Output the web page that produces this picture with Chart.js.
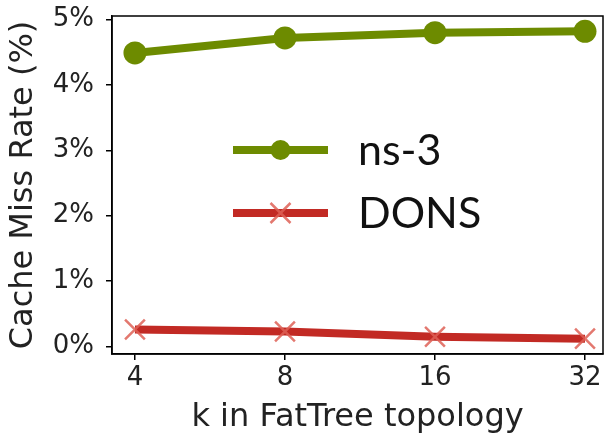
<!DOCTYPE html>
<html>
<head>
<meta charset="utf-8">
<script src="https://cdn.jsdelivr.net/npm/chart.js@4.4.0/dist/chart.umd.min.js"></script>
<style>
    html, body { margin: 0; padding: 0; background: #fff; }
    #wrap { width: 607px; height: 433px; }
</style>
</head>
<body>
<div id="wrap"><canvas id="missChart" width="607" height="433"></canvas></div>
<script>
// data
var kLabels = ['4', '8', '16', '32'];
var ns3Rate = [4.49, 4.72, 4.80, 4.82];
var donsRate = [0.26, 0.23, 0.15, 0.12];
var yTicks = [0, 1, 2, 3, 4, 5];

var green = '#6d8b00';
var red = '#c22a24';
var crossColor = 'rgba(222, 96, 86, 0.85)';
var font = 'DejaVu Sans';

function toPoints(values) {
    return values.map(function(v, i) { return { x: i, y: v }; });
}

// box around the plot + the legend drawn matplotlib style
var framePlugin = {
    id: 'frame',
    afterDraw: function(chart) {
        var ctx = chart.ctx;
        var a = chart.chartArea;
        ctx.save();
        ctx.strokeStyle = '#000';
        ctx.lineWidth = 1.5;
        ctx.strokeRect(a.left, a.top, a.right - a.left, a.bottom - a.top);

        var items = [
            { label: 'ns-3', color: green, marker: 'circle', y: a.top + 134 },
            { label: 'DONS', color: red, marker: 'cross', y: a.top + 197 }
        ];
        var x0 = a.left + 121, x1 = a.left + 216, xm = (x0 + x1) / 2;
        items.forEach(function(it) {
            ctx.strokeStyle = it.color;
            ctx.lineWidth = 8;
            ctx.beginPath();
            ctx.moveTo(x0, it.y);
            ctx.lineTo(x1, it.y);
            ctx.stroke();
            if (it.marker === 'circle') {
                ctx.fillStyle = it.color;
                ctx.beginPath();
                ctx.arc(xm, it.y, 10, 0, Math.PI * 2);
                ctx.fill();
            } else {
                ctx.strokeStyle = crossColor;
                ctx.lineWidth = 2.5;
                ctx.beginPath();
                ctx.moveTo(xm - 10, it.y - 10); ctx.lineTo(xm + 10, it.y + 10);
                ctx.moveTo(xm + 10, it.y - 10); ctx.lineTo(xm - 10, it.y + 10);
                ctx.stroke();
            }
            ctx.fillStyle = '#111';
            ctx.font = '43px Lato';
            ctx.textBaseline = 'middle';
            ctx.textAlign = 'left';
            ctx.fillText(it.label, a.left + 246, it.y + 1);
        });
        ctx.restore();
    }
};

var ctx = document.getElementById('missChart').getContext('2d');
new Chart(ctx, {
    type: 'line',
    data: {
        datasets: [{
            label: 'ns-3',
            data: toPoints(ns3Rate),
            borderColor: green,
            backgroundColor: green,
            borderWidth: 8,
            pointStyle: 'circle',
            pointRadius: 11.5,
            pointBorderWidth: 0,
            pointBackgroundColor: green
        }, {
            label: 'DONS',
            data: toPoints(donsRate),
            borderColor: red,
            backgroundColor: red,
            borderWidth: 8,
            pointStyle: 'crossRot',
            pointRadius: 14,
            pointBorderWidth: 2.5,
            pointBorderColor: crossColor
        }]
    },
    options: {
        responsive: false,
        animation: false,
        layout: {
            autoPadding: false,
            padding: { top: 16, right: 4, left: 0, bottom: 0 }
        },
        plugins: {
            legend: { display: false },
            tooltip: { enabled: false }
        },
        scales: {
            x: {
                type: 'linear',
                min: -0.153,
                max: 3.12,
                afterFit: function(scale) {
                    scale.height = 79;
                    scale.paddingLeft = 0;
                    scale.paddingRight = 0;
                },
                afterBuildTicks: function(scale) {
                    scale.ticks = kLabels.map(function(k, i) { return { value: i }; });
                },
                ticks: {
                    color: '#222',
                    font: { family: font, size: 26 },
                    padding: 3,
                    maxRotation: 0,
                    callback: function(value) { return kLabels[value]; }
                },
                grid: { drawOnChartArea: false, drawTicks: true, tickLength: 6, color: '#000', lineWidth: 1.5 },
                border: { display: true, color: '#000', width: 1.5 },
                title: {
                    display: true,
                    text: 'k in FatTree topology',
                    color: '#222',
                    font: { family: font, size: 32 },
                    padding: { top: 0, bottom: -4 }
                }
            },
            y: {
                min: -0.115,
                max: 5.055,
                afterFit: function(scale) {
                    scale.width = 112;
                    scale.paddingTop = 0;
                    scale.paddingBottom = 0;
                },
                afterBuildTicks: function(scale) {
                    scale.ticks = yTicks.map(function(v) { return { value: v }; });
                },
                ticks: {
                    color: '#222',
                    font: { family: font, size: 26 },
                    padding: 12,
                    callback: function(value) { return value + '%'; }
                },
                grid: { drawOnChartArea: false, drawTicks: true, tickLength: 6, color: '#000', lineWidth: 1.5 },
                border: { display: true, color: '#000', width: 1.5 },
                title: {
                    display: true,
                    text: 'Cache Miss Rate (%)',
                    color: '#222',
                    font: { family: font, size: 32 },
                    padding: { top: 4, bottom: 0 }
                }
            }
        }
    },
    plugins: [framePlugin]
});
</script>
</body>
</html>
